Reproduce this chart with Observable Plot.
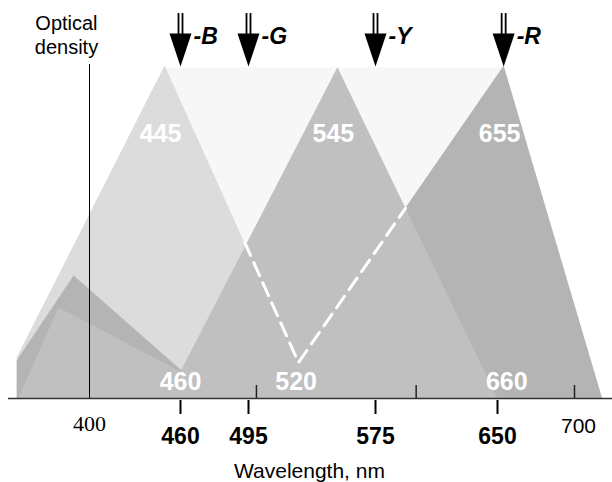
<!DOCTYPE html>
<html><head><meta charset="utf-8">
<script src="https://cdn.jsdelivr.net/npm/d3@7"></script>
<script src="https://cdn.jsdelivr.net/npm/@observablehq/plot@0.6"></script>
<style>html,body{margin:0;padding:0;background:#fff;}</style>
</head><body><div id="chart"></div>
<script>
// Schematic sensitivity polygons: wavelength (nm) and relative optical density
const envelopeWavelength = [450, 654, 654, 450];
const envelopeDensity = [0.994, 0.994, 0, 0];
const blueWavelength = [352, 352, 449.5, 526.5, 530];
const blueDensity = [0, 0.123, 1.0, 0.108, 0];
const redWavelength = [352, 352, 389.5, 460, 526.5, 654, 718];
const redDensity = [0, 0.114, 0.369, 0.087, 0.108, 1.0, 0];
const greenWavelength = [353, 379.6, 460, 551, 650];
const greenDensity = [0, 0.273, 0.081, 0.995, 0];
const dashWavelength = [493.1, 526.5, 593.4];
const dashDensity = [0.468, 0.108, 0.571];

const peakWavelength = [449.5, 551, 654];
const peakLabels = ["445", "545", "655"];
const minWavelength = [460, 525, 656];
const minLabels = ["460", "520", "660"];

const filterWavelength = [460, 495, 575, 654];
const filterLabels = ["-B", "-G", "-Y", "-R"];

const cutTicks = [460, 495, 575, 650];
const cutTickLabels = ["460", "495", "575", "650"];
const scaleTicks = [500, 600, 700];

const pts = (xs, ys) => xs.map((x, i) => ({x, y: ys[i]}));
const filters = filterLabels.map((label, i) => ({label, x: filterWavelength[i]}));
const peaks = peakLabels.map((label, i) => ({label, x: peakWavelength[i]}));
const mins = minLabels.map((label, i) => ({label, x: minWavelength[i]}));
const cuts = cutTickLabels.map((label, i) => ({label, x: cutTicks[i]}));

const arrowHead = {
  draw(ctx, size) {
    const r = Math.sqrt(size / Math.PI);
    ctx.moveTo(0, 0);
    ctx.lineTo(-r, -3 * r);
    ctx.lineTo(r, -3 * r);
    ctx.closePath();
  }
};

const sans = "Liberation Sans, Arial, Helvetica, sans-serif";

const chart = Plot.plot({
  width: 612,
  height: 482,
  marginLeft: 8, marginRight: 0, marginTop: 0, marginBottom: 0,
  x: {type: "linear", domain: [400, 460, 495, 575, 650, 700], range: [89, 180, 248, 375, 497, 574], axis: null},
  y: {domain: [0, 1], range: [398, 65], axis: null},
  style: {fontFamily: sans, background: "white", overflow: "visible"},
  marks: [
    Plot.line(pts(envelopeWavelength, envelopeDensity), {x: "x", y: "y", fill: "#f7f7f7", stroke: "none"}),
    Plot.line(pts(blueWavelength, blueDensity), {x: "x", y: "y", fill: "#dcdcdc", stroke: "none"}),
    Plot.line(pts(redWavelength, redDensity), {x: "x", y: "y", fill: "#b4b4b4", stroke: "none"}),
    Plot.line(pts(greenWavelength, greenDensity), {x: "x", y: "y", fill: "#c0c0c0", stroke: "none"}),
    Plot.line(pts(dashWavelength, dashDensity), {x: "x", y: "y", stroke: "white", strokeWidth: 3, strokeDasharray: "14,8"}),
    Plot.ruleX([400], {y1: 0, y2: 1.003, stroke: "black", strokeWidth: 1}),
    Plot.ruleY([0], {stroke: "#333", strokeWidth: 1.5}),
    Plot.ruleX(scaleTicks, {y1: 0, y2: 0.039, stroke: "#222", strokeWidth: 1.5}),
    Plot.ruleX(cutTicks, {y1: -0.006, y2: -0.048, stroke: "black", strokeWidth: 2}),
    Plot.ruleX(filterWavelength, {y1: 1.09, y2: 1.156, dx: -2, stroke: "black", strokeWidth: 1.8}),
    Plot.ruleX(filterWavelength, {y1: 1.09, y2: 1.156, dx: 2, stroke: "black", strokeWidth: 1.8}),
    Plot.dot(filterWavelength, {x: d => d, y: 0.997, symbol: arrowHead, r: 11, fill: "black", stroke: "none"}),
    Plot.text(filters, {x: "x", y: 1.066, text: "label", dx: 13, textAnchor: "start", lineAnchor: "bottom",
      fontSize: 23, fontWeight: "bold", fontStyle: "italic", fill: "black"}),
    Plot.text(peaks, {x: "x", y: 0.793, text: "label", dx: -4, fontSize: 25, fontWeight: "bold", fill: "white"}),
    Plot.text(mins, {x: "x", y: 0.051, text: "label", fontSize: 25, fontWeight: "bold", fill: "white"}),
    Plot.text(cuts, {x: "x", y: -0.138, text: "label", lineAnchor: "bottom", fontSize: 23, fontWeight: "bold", fill: "black"}),
    Plot.text(["400"], {x: 400, y: -0.099, text: d => d, lineAnchor: "bottom", fontSize: 22,
      fontFamily: "Liberation Serif, Times New Roman, serif", fill: "black"}),
    Plot.text(["700"], {x: 700, y: -0.105, text: d => d, dx: 4, lineAnchor: "bottom", fontSize: 21, fill: "black"}),
    Plot.text(["Optical\ndensity"], {x: 384.8, y: 1.036, text: d => d, lineAnchor: "bottom", lineHeight: 1.2, fontSize: 20, fill: "black"}),
    Plot.text(["Wavelength, nm"], {x: 533.4, y: -0.240, text: d => d, lineAnchor: "bottom", fontSize: 21, fill: "black"})
  ]
});
document.getElementById("chart").appendChild(chart);
</script>
</body></html>
